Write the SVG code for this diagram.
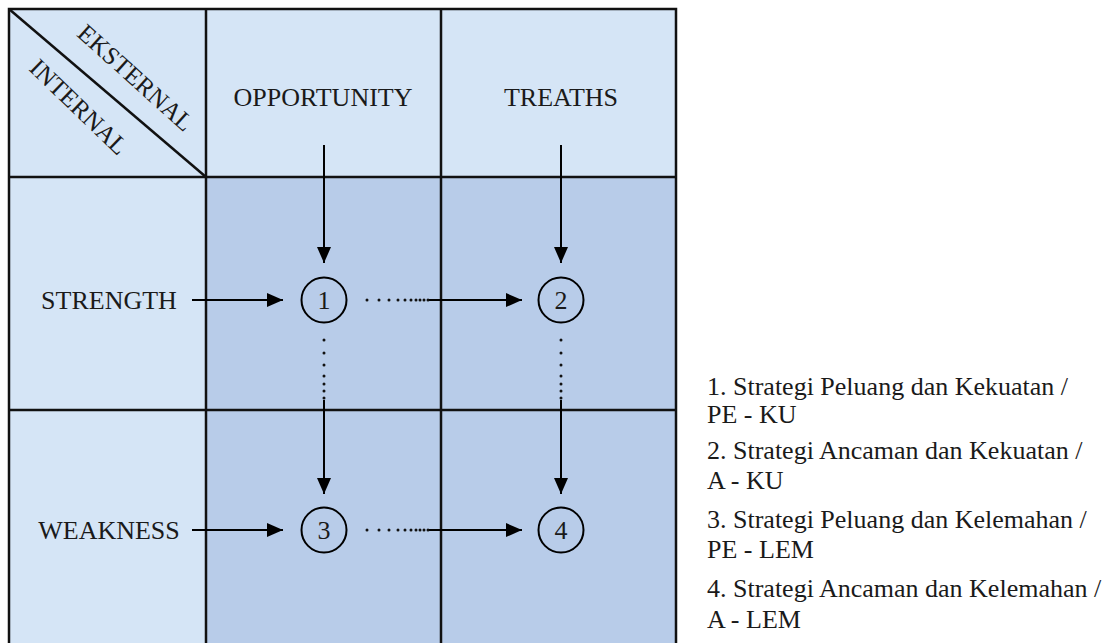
<svg xmlns="http://www.w3.org/2000/svg" width="1113" height="643" viewBox="0 0 1113 643">
<style>
.t{font-family:"Liberation Serif","Times New Roman",serif;fill:#1a1a1a}
.h{font-size:26px;text-anchor:middle}
.d{font-size:25px;text-anchor:middle}
.lg{font-size:26px}
.grid{stroke:#111;stroke-width:2.5;fill:none}
.ln{stroke:#000;stroke-width:2;fill:none}
.c{stroke:#000;stroke-width:2;fill:none}
.dot{fill:#111}
</style>
<defs>
<marker id="ah" markerUnits="userSpaceOnUse" markerWidth="16" markerHeight="14" refX="16" refY="7" orient="auto">
<path d="M0,0 L16,7 L0,14 Z" fill="#000"/>
</marker>
<g id="hdots">
<circle cx="0" cy="0" r="1.5"/><circle cx="12" cy="0" r="1.5"/><circle cx="22" cy="0" r="1.5"/><circle cx="31" cy="0" r="1.5"/><circle cx="38" cy="0" r="1.5"/><circle cx="44" cy="0" r="1.5"/><circle cx="49" cy="0" r="1.5"/><circle cx="53" cy="0" r="1.5"/><circle cx="57" cy="0" r="1.5"/><circle cx="61" cy="0" r="1.5"/>
</g>
<g id="vdots">
<circle cx="0" cy="0" r="1.5"/><circle cx="0" cy="13" r="1.5"/><circle cx="0" cy="25" r="1.5"/><circle cx="0" cy="36" r="1.5"/><circle cx="0" cy="44" r="1.5"/><circle cx="0" cy="51" r="1.5"/><circle cx="0" cy="58" r="1.5"/>
</g>
</defs>
<rect width="1113" height="643" fill="#ffffff"/>
<g id="cells">
<rect x="9" y="9" width="667" height="640" fill="#d5e5f6"/>
<rect x="206" y="177" width="470" height="470" fill="#b8cce9"/>
</g>
<g id="grid" class="grid">
<path d="M9,660 V9 H676 V660"/>
<path d="M206,9 V660 M441,9 V660 M9,177 H676 M9,410 H676"/>
<path d="M9,9 L206,177"/>
</g>
<g id="corner">
<text class="t d" transform="translate(130,84) rotate(42)">EKSTERNAL</text>
<text class="t d" transform="translate(73,113) rotate(44)">INTERNAL</text>
</g>
<g id="headers">
<text class="t h" x="323" y="106">OPPORTUNITY</text>
<text class="t h" x="561" y="106">TREATHS</text>
<text class="t h" x="109" y="309">STRENGTH</text>
<text class="t h" x="109" y="539">WEAKNESS</text>
</g>
<g id="node1"><circle class="c" cx="324" cy="300" r="22.5"/><text class="t h" x="324" y="309">1</text></g>
<g id="node2"><circle class="c" cx="561" cy="300" r="22.5"/><text class="t h" x="561" y="309">2</text></g>
<g id="node3"><circle class="c" cx="324" cy="530" r="22.5"/><text class="t h" x="324" y="539">3</text></g>
<g id="node4"><circle class="c" cx="561" cy="530" r="22.5"/><text class="t h" x="561" y="539">4</text></g>
<g id="connectors" class="ln">
<line x1="324" y1="145" x2="324" y2="263" marker-end="url(#ah)"/>
<line x1="561" y1="145" x2="561" y2="263" marker-end="url(#ah)"/>
<line x1="192" y1="300" x2="283" y2="300" marker-end="url(#ah)"/>
<line x1="192" y1="530" x2="283" y2="530" marker-end="url(#ah)"/>
<line x1="428" y1="300" x2="522" y2="300" marker-end="url(#ah)"/>
<line x1="428" y1="530" x2="522" y2="530" marker-end="url(#ah)"/>
<line x1="324" y1="400" x2="324" y2="494" marker-end="url(#ah)"/>
<line x1="561" y1="400" x2="561" y2="494" marker-end="url(#ah)"/>
</g>
<g id="dots" class="dot">
<use href="#hdots" x="367" y="300"/>
<use href="#hdots" x="367" y="530"/>
<use href="#vdots" x="324" y="340"/>
<use href="#vdots" x="561" y="340"/>
</g>
<g id="legend">
<text class="t lg" x="707" y="395">1. Strategi Peluang dan Kekuatan /</text>
<text class="t lg" x="707" y="423">PE - KU</text>
<text class="t lg" x="707" y="459">2. Strategi Ancaman dan Kekuatan /</text>
<text class="t lg" x="707" y="489">A - KU</text>
<text class="t lg" x="707" y="528">3. Strategi Peluang dan Kelemahan /</text>
<text class="t lg" x="707" y="558">PE - LEM</text>
<text class="t lg" x="707" y="597">4. Strategi Ancaman dan Kelemahan /</text>
<text class="t lg" x="707" y="628">A - LEM</text>
</g>
</svg>
